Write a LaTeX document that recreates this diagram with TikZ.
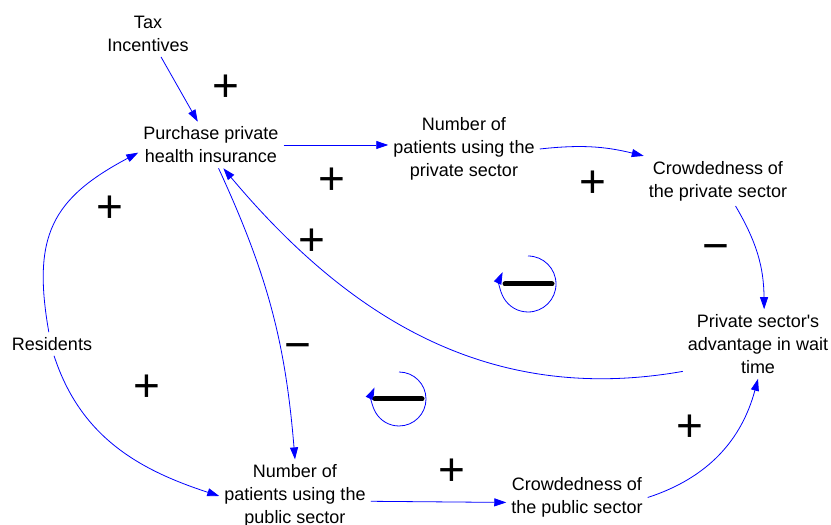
\documentclass[tikz,border=0pt]{standalone}
\usepackage{fontspec}
\setmainfont{Liberation Sans}
\usetikzlibrary{arrows.meta}

\tikzset{
  var/.style={align=center,font=\fontsize{18}{23}\selectfont,inner sep=5pt},
  sign/.style={font=\fontsize{46}{46}\selectfont,inner sep=0pt},
  loopring/.style={draw=blue,line width=0.8pt},
  loopbar/.style={draw=black,line width=5pt,line cap=round}
}

\begin{document}
\begin{tikzpicture}[->,>={Triangle[length=12pt,width=8pt]},x=1pt,y=1pt,
    every edge/.style={draw,blue,line width=0.8pt}]
            \useasboundingbox (0,0) rectangle (831,525);
            \node[var](Tax)at(148, 491){Tax\\Incentives};
            \node[var](Buy)at(211, 380){Purchase private\\health insurance};
            \node[var](PrivPat)at(464, 376){Number of\\patients using the\\private sector};
            \node[var](PrivCrowd)at(718, 344){Crowdedness of\\the private sector};
            \node[var](Advantage)at(758, 181){Private sector\textquotesingle s\\advantage in wait\\time};
            \node[var](Residents)at(52, 181){Residents};
            \node[var](PubPat)at(295, 29){Number of\\patients using the\\public sector};
            \node[var](PubCrowd)at(577, 27.5){Crowdedness of\\the public sector};
            \path[](Tax) edge (Buy)
            (Buy.east) edge (PrivPat.west |- Buy.east)
            (PrivPat.east) edge[bend left=10] (PrivCrowd.north west)
            (PrivCrowd.-55) edge[bend left=15] (Advantage.80)
            (Advantage.200) edge[out=190,in=-50] (Buy.-62)
            (Buy.-72) edge[bend left=10] (PubPat.north)
            (Residents.105) edge[out=100,in=208,looseness=1.25] (Buy.186)
            (Residents.-80) edge[out=-72,in=162] (PubPat.west)
            (PubPat.-4) edge (PubCrowd.184.5)
            (PubCrowd.east) edge[out=18,in=-105] (Advantage.south);
            % polarities
            \node[sign](s1)at(226, 437){+};
            \node[sign](s2)at(110, 316){+};
            \node[sign](s3)at(332, 344){+};
            \node[sign](s4)at(312, 283){+};
            \node[sign](s5)at(593, 341){+};
            \node[sign](s6)at(716, 272){−};
            \node[sign](s7)at(298, 173){−};
            \node[sign](s8)at(147, 137){+};
            \node[sign](s9)at(452, 53){+};
            \node[sign](s10)at(690, 97){+};
            % loops
            \coordinate (LoopA) at (528, 241);
            \coordinate (LoopB) at (399, 126);
            \draw[loopring] (LoopA) ++(0,28) arc[start angle=90,end angle=-205,radius=28];
            \draw[loopbar,-] ([xshift=-23]LoopA) -- ([xshift=24]LoopA);
            \draw[loopring] (LoopB) ++(0,27) arc[start angle=90,end angle=-205,radius=27];
            \draw[loopbar,-] ([xshift=-24]LoopB) -- ([xshift=23]LoopB);
        \end{tikzpicture}
\end{document}
